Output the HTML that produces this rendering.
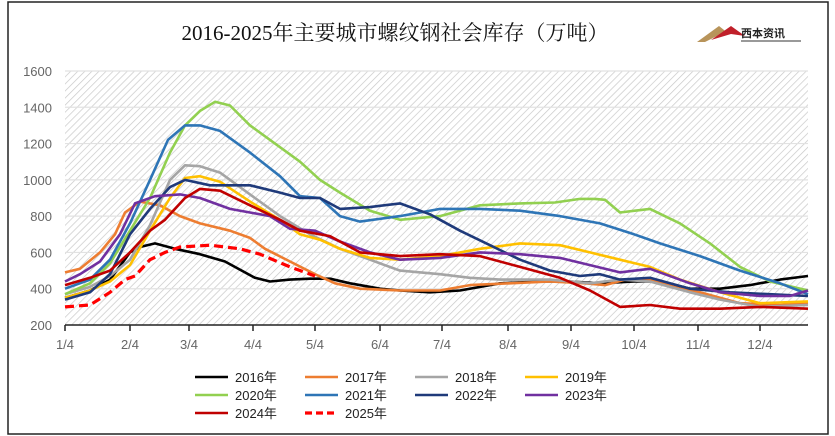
<!DOCTYPE html>
<html><head><meta charset="utf-8"><style>
body{margin:0;background:#fff;width:835px;height:436px;overflow:hidden}
svg{display:block}
text{font-family:"Liberation Sans","Noto Sans CJK SC",sans-serif}
</style></head><body>
<svg id="s" width="835" height="436" xmlns="http://www.w3.org/2000/svg">
<defs>
<pattern id="h" width="5" height="5" patternUnits="userSpaceOnUse" patternTransform="rotate(45)">
<rect width="5" height="5" fill="#fff"/><line x1="0" y1="0" x2="0" y2="5" stroke="#c8c8c8" stroke-width="1.4"/>
</pattern>
</defs>
<rect x="8" y="2" width="820" height="432" fill="#fff" stroke="#222" stroke-width="1.5"/>
<text x="395" y="40" text-anchor="middle" font-size="21" style="font-family:'Liberation Serif','Noto Serif CJK SC',serif" fill="#111">2016-2025年主要城市螺纹钢社会库存（万吨）</text>
<g transform="translate(697,26)">
<path d="M0 16 L22 0 L32 8 L24 8 L8 16Z" fill="#b8945a"/>
<path d="M14 14 L34 0 L48 10 L34 8Z" fill="#c0202a"/>
<text x="44" y="11" font-size="11" font-weight="bold" fill="#222">西本资讯</text>
<line x1="44" y1="15" x2="104" y2="15" stroke="#333" stroke-width="1"/>
</g>
<rect x="65" y="71" width="743" height="254" fill="url(#h)"/>
<g id="grid" stroke="#e2e2e2" stroke-width="1.2"></g>
<g id="yl" font-size="13" fill="#666" text-anchor="end"></g>
<line x1="65" y1="325" x2="808" y2="325" stroke="#222" stroke-width="1.5"/>
<g id="xt" stroke="#222" stroke-width="1.5"></g>
<g id="xl" font-size="13" fill="#666" text-anchor="middle"></g>
<g id="series" fill="none" stroke-width="2.6" stroke-linejoin="round"></g>
<g id="leg" font-size="13" fill="#222"></g>
</svg>
<script>
var NS="http://www.w3.org/2000/svg";
function el(t,a,p,txt){var e=document.createElementNS(NS,t);for(var k in a)e.setAttribute(k,a[k]);if(txt)e.textContent=txt;document.getElementById(p).appendChild(e);return e;}
function Y(v){return 325-(v-200)*0.18143;}
for(var v=200;v<=1600;v+=200){ if(v>200)el('line',{x1:65,x2:808,y1:Y(v),y2:Y(v)},'grid'); el('text',{x:52,y:Y(v)+5},'yl',''+v);}
var xs=[65,130,189,253,315,380,442,508,571,634,698,760];
xs.forEach(function(x,i){el('line',{x1:x,x2:x,y1:325,y2:331},'xt');el('text',{x:x,y:349},'xl',(i+1)+'/4');});
var S=[
['#000',[65,350,90,390,110,450,130,600,140,630,155,650,175,620,200,590,225,550,255,460,270,440,290,450,310,455,330,455,350,430,380,400,400,390,430,380,460,390,500,430,540,440,570,440,600,430,634,440,660,440,690,400,720,400,750,420,780,450,808,470]],
['#ed7d31',[65,490,80,510,100,600,115,700,125,820,140,880,160,860,180,800,200,760,230,720,250,680,265,620,290,550,315,480,335,430,360,400,400,390,440,390,470,420,510,430,550,440,585,430,605,420,625,450,650,450,680,400,700,380,740,320,780,310,808,320]],
['#a5a5a5',[65,370,90,410,110,470,130,560,150,750,170,1000,185,1080,200,1075,220,1040,250,920,280,800,310,700,340,620,370,560,400,500,440,480,470,460,500,450,550,450,590,430,620,450,650,440,690,380,720,340,760,300,808,310]],
['#ffc000',[65,350,90,390,110,440,130,530,150,720,170,900,185,1010,200,1020,220,990,250,880,280,780,300,700,320,670,340,620,370,570,400,560,440,580,480,620,520,650,560,640,590,600,620,560,650,520,680,450,720,380,760,320,808,330]],
['#92d050',[65,370,90,430,110,540,130,720,150,900,170,1150,185,1300,200,1380,215,1430,230,1410,250,1300,280,1180,300,1100,320,1000,340,930,370,830,400,780,440,800,480,860,520,870,555,875,580,895,595,895,605,890,620,820,650,840,680,760,710,650,740,520,770,440,808,390]],
['#2e75b6',[65,400,90,450,110,560,130,760,150,1000,168,1220,185,1300,200,1300,220,1270,250,1150,280,1020,300,910,320,900,340,800,360,770,400,800,440,840,480,840,520,830,560,800,600,760,634,700,660,650,700,580,740,500,780,430,808,370]],
['#1f3a7a',[65,340,90,380,110,480,130,700,150,840,170,960,185,1000,210,970,250,970,280,930,300,900,320,900,340,840,370,850,400,870,430,810,460,720,490,640,520,560,550,500,580,470,600,480,620,450,650,460,690,400,730,380,808,360]],
['#7030a0',[65,440,80,480,100,550,120,700,135,870,155,910,180,920,200,900,230,840,250,820,270,800,290,730,315,720,340,660,370,600,400,560,440,570,480,600,520,590,560,570,590,530,620,490,650,510,690,430,720,380,760,360,790,360,808,390]],
['#c00000',[65,420,90,460,110,500,130,600,150,720,165,780,185,900,200,950,220,940,250,860,280,780,300,720,330,690,360,600,400,580,440,590,480,580,520,520,560,460,590,390,620,300,650,310,680,290,720,290,760,300,808,290]],
['#ff0000',[65,300,90,310,110,380,125,450,135,470,150,560,165,600,180,630,210,640,240,620,260,590,290,520,315,470],1]
];
S.forEach(function(s){var p=[];for(var i=0;i<s[1].length;i+=2)p.push(s[1][i]+','+Y(s[1][i+1]).toFixed(1));
var a={points:p.join(' '),stroke:s[0]};if(s[2]){a['stroke-dasharray']='9,5';a['stroke-width']=3.2;}el('polyline',a,'series');});
var L=[['2016年','#000'],['2017年','#ed7d31'],['2018年','#a5a5a5'],['2019年','#ffc000'],['2020年','#92d050'],['2021年','#2e75b6'],['2022年','#1f3a7a'],['2023年','#7030a0'],['2024年','#c00000'],['2025年','#ff0000',1]];
L.forEach(function(l,i){var c=i%4,r=Math.floor(i/4);var x=195+c*110,y=377+r*18;
var a={x1:x,x2:x+33,y1:y,y2:y,stroke:l[1],'stroke-width':l[2]?3.2:2.6};if(l[2])a['stroke-dasharray']='7,4';el('line',a,'leg');
el('text',{x:x+40,y:y+5},'leg',l[0]);});
</script>
</body></html>
